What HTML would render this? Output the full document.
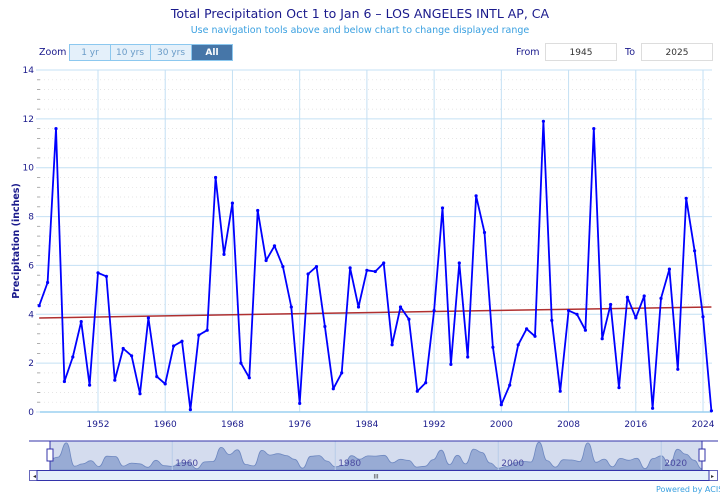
<!DOCTYPE html>
<html><head><meta charset="utf-8">
<style>
body{margin:0;background:#fff;font-family:"DejaVu Sans","Liberation Sans",sans-serif;}
svg{display:block}
</style></head><body>
<svg id="s" width="720" height="496" xmlns="http://www.w3.org/2000/svg" font-family="DejaVu Sans, Liberation Sans, sans-serif">
<text x="360" y="18" text-anchor="middle" font-size="12.5" fill="#1a1a8c">Total Precipitation Oct 1 to Jan 6 – LOS ANGELES INTL AP, CA</text>
<text x="360" y="33" text-anchor="middle" font-size="9.5" fill="#3aa0e0">Use navigation tools above and below chart to change displayed range</text>
<text x="39" y="55" font-size="9.5" fill="#1a1a8c">Zoom</text>
<rect x="69.5" y="44.5" width="41" height="16" fill="#e4f0fa" stroke="#8cc8ef"/>
<text x="90" y="55" text-anchor="middle" font-size="9" fill="#6a9cc8">1 yr</text>
<rect x="110.5" y="44.5" width="40" height="16" fill="#e4f0fa" stroke="#8cc8ef"/>
<text x="130" y="55" text-anchor="middle" font-size="9" fill="#6a9cc8">10 yrs</text>
<rect x="150.5" y="44.5" width="41" height="16" fill="#e4f0fa" stroke="#8cc8ef"/>
<text x="171" y="55" text-anchor="middle" font-size="9" fill="#6a9cc8">30 yrs</text>
<rect x="191.5" y="44.5" width="41" height="16" fill="#4676a8" stroke="#8cc8ef"/>
<text x="212" y="55" text-anchor="middle" font-size="9" font-weight="bold" fill="#fff">All</text>
<text x="516" y="55" font-size="9.5" fill="#1a1a8c">From</text>
<rect x="545.5" y="43.5" width="71" height="17" fill="#fff" stroke="#ddd"/>
<text x="581" y="55" text-anchor="middle" font-size="9" fill="#333">1945</text>
<text x="625" y="55" font-size="9.5" fill="#1a1a8c">To</text>
<rect x="641.5" y="43.5" width="71" height="17" fill="#fff" stroke="#ddd"/>
<text x="677" y="55" text-anchor="middle" font-size="9" fill="#333">2025</text>
<text transform="translate(19,241) rotate(-90)" text-anchor="middle" font-size="9.5" font-weight="bold" fill="#1a1a8c">Precipitation (inches)</text>
<g id="g"></g>
<text x="656" y="492" font-size="8" fill="#3aa0e0">Powered by ACIS</text>
</svg>
<script>
var d=[4.35,5.3,11.6,1.25,2.25,3.7,1.1,5.7,5.55,1.3,2.6,2.3,0.75,3.85,1.45,1.15,2.7,2.9,0.1,3.15,3.35,9.6,6.45,8.55,2.0,1.4,8.25,6.2,6.8,5.95,4.3,0.35,5.65,5.95,3.5,0.95,1.6,5.9,4.3,5.8,5.75,6.1,2.75,4.3,3.8,0.85,1.2,4.15,8.35,1.95,6.1,2.25,8.85,7.35,2.65,0.3,1.1,2.75,3.4,3.1,11.9,3.75,0.85,4.15,4.0,3.35,11.6,3.0,4.4,1.0,4.7,3.85,4.75,0.15,4.65,5.85,1.75,8.75,6.6,3.9,0.05];
var L=40,R=712,T=70,B=412;
function X(y){return 98+(y-1952)*8.403;}
function Y(v){return B-v*(B-T)/14;}
var h='';
for(var v=0.4;v<14;v+=0.4){if(Math.abs(v/2-Math.round(v/2))<0.01)continue;h+='<line x1="'+L+'" x2="'+R+'" y1="'+Y(v).toFixed(1)+'" y2="'+Y(v).toFixed(1)+'" stroke="#ddd" stroke-dasharray="1,3" stroke-width="0.7"/>';h+='<line x1="37" x2="40" y1="'+Y(v).toFixed(1)+'" y2="'+Y(v).toFixed(1)+'" stroke="#999" stroke-width="0.8"/>';}
for(var v=0;v<=14;v+=2){h+='<line x1="'+(L-4)+'" x2="'+R+'" y1="'+Y(v)+'" y2="'+Y(v)+'" stroke="#c4e0f4" stroke-width="1"/>';h+='<text x="34" y="'+(Y(v)+3)+'" text-anchor="end" font-size="9" fill="#1a1a8c">'+v+'</text>';}
for(var y=1952;y<=2024;y+=8){var x=X(y);h+='<line x1="'+x+'" x2="'+x+'" y1="'+T+'" y2="'+B+'" stroke="#c4e0f4"/>';h+='<text x="'+x+'" y="'+(B+15)+'" text-anchor="middle" font-size="9" fill="#1a1a8c">'+y+'</text>';}
h+='<line x1="'+L+'" x2="'+R+'" y1="'+B+'" y2="'+B+'" stroke="#9cd0f0" stroke-width="1.5"/>';
h+='<line x1="'+X(1945)+'" y1="'+Y(3.85)+'" x2="'+X(2025)+'" y2="'+Y(4.3)+'" stroke="#b03030" stroke-width="1.5"/>';
var p=d.map(function(v,i){return X(1945+i).toFixed(1)+','+Y(v).toFixed(1)}).join(' ');
h+='<polyline points="'+p+'" fill="none" stroke="#0000ff" stroke-width="1.8" stroke-linejoin="round"/>';
d.forEach(function(v,i){h+='<circle cx="'+X(1945+i).toFixed(1)+'" cy="'+Y(v).toFixed(1)+'" r="1.6" fill="#0000ff"/>';});
var nT=441,nB=470,nL=50,nR=702;
h+='<rect x="'+nL+'" y="'+nT+'" width="'+(nR-nL)+'" height="'+(nB-nT)+'" fill="#d4dcee"/>';
var pts=d.map(function(v,i){return [nL+i*(nR-nL)/80,nB-1-v*2.25];});
var ap='M'+nL+','+nB+' L'+pts[0][0]+','+pts[0][1].toFixed(1);
for(var i=0;i<pts.length-1;i++){var a=pts[i],b=pts[i+1],m=(a[0]+b[0])/2;ap+=' C'+m.toFixed(1)+','+a[1].toFixed(1)+' '+m.toFixed(1)+','+b[1].toFixed(1)+' '+b[0].toFixed(1)+','+b[1].toFixed(1);}
ap+=' L'+nR+','+nB+' Z';
h+='<path d="'+ap+'" fill="#98abd4" stroke="#6e88c0" stroke-width="0.8"/>';
[1960,1980,2000,2020].forEach(function(y){var x=nL+(y-1945)*(nR-nL)/80;h+='<line x1="'+x+'" x2="'+x+'" y1="'+nT+'" y2="'+nB+'" stroke="#b8cce8"/><text x="'+(x+3)+'" y="'+(nB-4)+'" font-size="9" fill="#4a4aa0">'+y+'</text>';});
h+='<line x1="29" x2="718" y1="'+nT+'" y2="'+nT+'" stroke="#3333aa"/>';
h+='<line x1="'+nL+'" x2="'+nL+'" y1="'+nT+'" y2="'+nB+'" stroke="#3333aa"/><line x1="'+nR+'" x2="'+nR+'" y1="'+nT+'" y2="'+nB+'" stroke="#3333aa"/>';
h+='<rect x="'+(nL-3)+'" y="449" width="6" height="12" fill="#fff" stroke="#3333aa"/><rect x="'+(nR-3)+'" y="449" width="6" height="12" fill="#fff" stroke="#3333aa"/>';
h+='<rect x="29.5" y="470.5" width="688" height="10" fill="#fff" stroke="#6666bb"/>';
h+='<rect x="37" y="470.5" width="672" height="10" fill="#e4f0fa" stroke="#3333aa"/>';
h+='<text x="33" y="478" font-size="6" fill="#333">◂</text><text x="711" y="478" font-size="6" fill="#333">▸</text><text x="376" y="478.5" text-anchor="middle" font-size="6" fill="#333">III</text>';
document.getElementById('g').innerHTML=h;
</script>
</body></html>
